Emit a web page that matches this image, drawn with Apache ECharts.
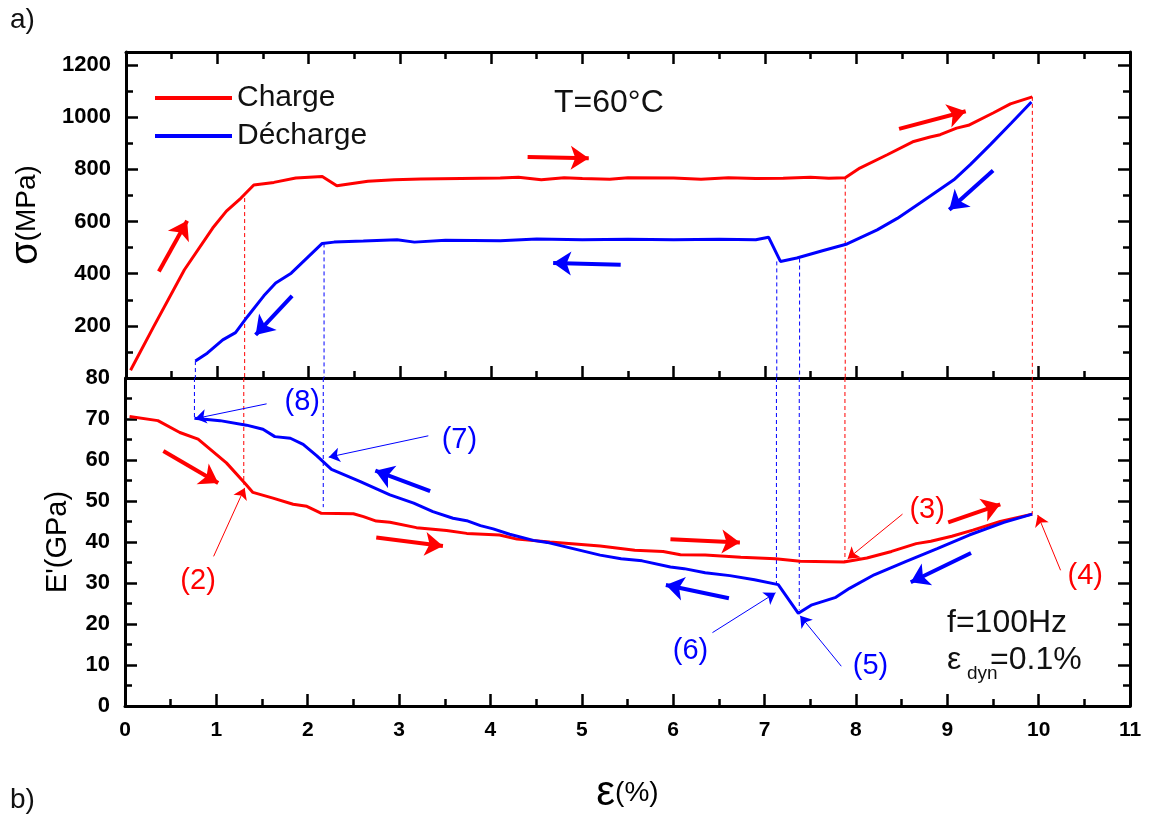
<!DOCTYPE html>
<html><head><meta charset="utf-8">
<script src="https://cdn.jsdelivr.net/npm/echarts@6/dist/echarts.min.js"></script>
<style>html,body{margin:0;padding:0;background:#fff}#c{width:1152px;height:819px}#err{position:absolute;left:300px;top:740px;font:11px monospace;color:#c00;white-space:pre-wrap;width:840px}</style>
</head><body><div id="c"></div><div id="err"></div>
<script>
window.onerror = function(m, s, l, c, e){ document.getElementById('err').textContent += 'ERR ' + m + '\n'; };
// ---- data (strain %, stress MPa / modulus GPa) ----
const sigmaCharge = [[0.05,30],[0.3,195],[0.64,415],[0.95,575],[1.1,640],[1.26,690],[1.40,740],[1.62,750],[1.86,767],[2.15,773],[2.31,737],[2.65,754],[2.94,760],[3.23,763],[3.67,765],[4.1,767],[4.3,770],[4.55,760],[4.8,768],[5.0,765],[5.3,762],[5.5,768],[6.0,767],[6.3,762],[6.6,768],[6.9,765],[7.2,766],[7.5,770],[7.7,766],[7.88,768],[8.04,805],[8.34,856],[8.63,907],[8.81,924],[8.92,933],[9.10,958],[9.23,969],[9.50,1016],[9.69,1051],[9.93,1078]];
const sigmaDecharge = [[9.92,1058],[9.70,978],[9.47,895],[9.25,818],[9.07,760],[8.70,671],[8.45,612],[8.23,568],[7.90,514],[7.64,489],[7.35,460],[7.17,447],[7.04,540],[6.90,530],[6.5,532],[6.0,530],[5.5,532],[5.0,530],[4.5,533],[4.1,526],[3.5,528],[3.16,521],[2.97,530],[2.6,525],[2.28,521],[2.15,516],[1.81,402],[1.64,364],[1.51,315],[1.33,235],[1.20,174],[1.06,146],[0.89,95],[0.76,65]];
const eCharge = [[0.05,70.6],[0.36,69.6],[0.60,66.7],[0.80,65.1],[1.11,59.3],[1.31,54.4],[1.40,52.1],[1.62,50.7],[1.84,49.2],[1.99,48.7],[2.15,47.0],[2.50,46.9],[2.61,46.2],[2.75,45.1],[2.90,44.8],[3.19,43.5],[3.52,42.8],[3.74,42.1],[4.10,41.7],[4.29,40.7],[4.65,40.0],[5.20,39.0],[5.58,38.0],[5.89,37.7],[6.08,36.9],[6.35,36.8],[6.74,36.3],[7.12,35.9],[7.39,35.3],[7.87,35.1],[8.12,36.1],[8.39,37.7],[8.66,39.6],[8.82,40.2],[9.05,41.4],[9.28,42.9],[9.58,45.0],[9.93,46.8]];
const eDecharge = [[9.93,46.8],[9.62,44.8],[9.24,41.7],[8.89,38.4],[8.55,35.3],[8.20,32.0],[7.93,28.7],[7.78,26.5],[7.51,24.6],[7.37,22.6],[7.15,29.6],[6.89,30.8],[6.62,31.8],[6.35,32.5],[6.12,33.5],[5.97,33.9],[5.66,35.4],[5.43,35.9],[5.20,36.8],[4.62,39.9],[4.47,40.4],[4.21,41.9],[4.03,43.2],[3.89,44.0],[3.74,45.2],[3.59,45.8],[3.37,47.4],[3.16,49.5],[2.90,51.5],[2.57,54.8],[2.26,57.7],[2.10,61.0],[1.95,63.8],[1.81,65.3],[1.64,65.7],[1.51,67.5],[1.33,68.5],[1.04,69.6],[0.76,70.2]];

// dashed guide lines: strain, stress on top panel, modulus on bottom panel, colour key
const guideStrain = [1.30, 0.76, 2.17, 7.13, 7.38, 7.88, 9.93];
const guideStress = [690, 65, 516, 447, 458, 768, 1078];
const guideModulus = [54.0, 70.2, 48.5, 29.8, 23.5, 35.3, 46.8];
const guideColor = ['r','b','b','b','b','r','r'];

// direction arrows (from x,y to x,y)
const arrowsTop = [[0.36,408,0.67,603,'r'],[1.82,315,1.42,165,'b'],[4.40,847,5.07,843,'r'],[5.42,434,4.68,441,'b'],[8.47,955,9.20,1023,'r'],[9.50,796,9.02,645,'b']];
const arrowsBottom = [[0.42,62.2,1.02,54.4,'r'],[2.75,41.1,3.48,39.0,'r'],[3.34,52.4,2.74,57.4,'b'],[5.97,40.7,6.73,39.9,'r'],[6.61,26.3,5.92,29.5,'b'],[9.01,44.8,9.58,49.2,'r'],[9.26,37.3,8.60,30.2,'b']];
// pointer arrows for numbered points
const pointers = [[1.55,73.7,0.77,70.1,'b'],[3.32,65.9,2.23,60.7,'b'],[0.97,36.5,1.31,53.2,'r'],[8.51,46.8,7.91,35.9,'r'],[10.24,33.1,9.99,46.6,'r'],[6.43,17.9,7.12,27.6,'b'],[7.84,9.7,7.39,22.0,'b']];
const pointLabels = ['(8)','(7)','(2)','(3)','(4)','(6)','(5)'];
const pointLabelPos = [[1.94,74.1],[3.66,64.9],[0.80,30.5],[8.78,47.9],[10.51,31.8],[6.19,13.4],[8.16,9.7]];
const pointLabelColor = ['b','b','r','r','r','b','b'];

const strainTicks = [0,1,2,3,4,5,6,7,8,9,10,11];

const RED = '#ff0000', BLUE = '#0000ff';
const col = k => k === 'r' ? RED : BLUE;
const FONT = '"Liberation Sans", Arial, sans-serif';

const chart = echarts.init(document.getElementById('c'));

function xAxisDef(gi, pos, labels) {
  return {
    type: 'value', gridIndex: gi, position: pos, min: strainTicks[0], max: strainTicks[strainTicks.length-1], interval: 1,
    axisLine: {onZero: false, lineStyle: {color: '#000', width: 3}},
    axisTick: {show: true, inside: true, length: 12, lineStyle: {color: '#000', width: 2.5}},
    minorTick: {show: true, splitNumber: 2, length: 7, lineStyle: {color: '#000', width: 2.5}},
    splitLine: {show: false},
    axisLabel: labels ? {show: true, margin: 14, color: '#000', fontWeight: 'bold', fontSize: 21, fontFamily: FONT} : {show: false}
  };
}
function yAxisDef(gi, pos, min, max, interval, labels, formatter) {
  const a = {
    type: 'value', gridIndex: gi, position: pos, min: min, max: max, interval: interval,
    axisLine: {onZero: false, lineStyle: {color: '#000', width: 3}},
    axisTick: {show: true, inside: true, length: 12, lineStyle: {color: '#000', width: 2.5}},
    minorTick: {show: true, splitNumber: 2, length: 7, lineStyle: {color: '#000', width: 2.5}},
    splitLine: {show: false},
    axisLabel: labels ? {show: true, margin: 15, color: '#000', fontWeight: 'bold', fontSize: 22, fontFamily: FONT} : {show: false}
  };
  if (formatter) a.axisLabel.formatter = formatter;
  return a;
}

const xAxes = [xAxisDef(0,'bottom',false), xAxisDef(0,'top',false), xAxisDef(1,'bottom',true)];
xAxes[2].name = '{e|ε}{n|(%)}';
xAxes[2].nameLocation = 'middle';
xAxes[2].nameGap = 66;
xAxes[2].nameTextStyle = {rich: {e: {fontSize: 42, fontFamily: FONT, color: '#000'}, n: {fontSize: 28, fontFamily: FONT, color: '#000'}}};

const yAxes = [
  yAxisDef(0,'left',0,1250,200,true, v => (v === 0 || v > 1200) ? '' : String(v)),
  yAxisDef(0,'right',0,1250,200,false),
  yAxisDef(1,'left',0,80,10,true),
  yAxisDef(1,'right',0,80,10,false)
];
yAxes[0].name = '{s|σ}{n|(MPa)}';
yAxes[0].nameLocation = 'middle';
yAxes[0].nameRotate = 90;
yAxes[0].nameGap = 80;
yAxes[0].nameTextStyle = {rich: {s: {fontSize: 38, fontFamily: FONT, color: '#000'}, n: {fontSize: 28, fontFamily: FONT, color: '#000'}}};
yAxes[2].name = "E'(GPa)";
yAxes[2].nameLocation = 'middle';
yAxes[2].nameRotate = 90;
yAxes[2].nameGap = 53;
yAxes[2].nameTextStyle = {fontSize: 29, fontFamily: FONT, color: '#000'};

const gridBottom = {left: 125, right: 22, top: 378, height: 328};

function lineSeries(name, data, color, xi, yi, dashed, width) {
  return {type: 'line', name: name, data: data, xAxisIndex: xi, yAxisIndex: yi, symbol: 'none', showSymbol: false,
    color: color, lineStyle: {color: color, width: width || 3, type: dashed ? [4,3] : 'solid'}, z: dashed ? 2 : 3, animation: false, silent: true};
}
function arrowSeries(items, color, xi, yi, width, arrowSize) {
  return {type: 'lines', coordinateSystem: 'cartesian2d', xAxisIndex: xi, yAxisIndex: yi,
    data: items.map(c => ({coords: c})),
    symbol: ['none','arrow'], symbolSize: arrowSize,
    lineStyle: {color: color, width: width, opacity: 1},
    itemStyle: {color: color}, z: 4, animation: false, silent: true};
}

const series = [
  lineSeries('Charge', sigmaCharge, RED, 0, 0),
  lineSeries('Décharge', sigmaDecharge, BLUE, 0, 0),
  lineSeries('Charge', eCharge, RED, 2, 2),
  lineSeries('Décharge', eDecharge, BLUE, 2, 2)
];
guideStrain.forEach((s, i) => {
  series.push(lineSeries(null, [[s, guideStress[i]], [s, 0]], col(guideColor[i]), 0, 0, true, 1));
  series.push(lineSeries(null, [[s, 80], [s, guideModulus[i]]], col(guideColor[i]), 2, 2, true, 1));
});
['r','b'].forEach(k => {
  series.push(arrowSeries(arrowsTop.filter(a => a[4] === k).map(a => [[a[0],a[1]],[a[2],a[3]]]), col(k), 0, 0, 4, 18));
  series.push(arrowSeries(arrowsBottom.filter(a => a[4] === k).map(a => [[a[0],a[1]],[a[2],a[3]]]), col(k), 2, 2, 4, 18));
  series.push(arrowSeries(pointers.filter(a => a[4] === k).map(a => [[a[0],a[1]],[a[2],a[3]]]), col(k), 2, 2, 1, 11));
});
// anchor points of the numbered labels (invisible markers)
series.push({
  type: 'scatter', xAxisIndex: 2, yAxisIndex: 2, symbolSize: 1, itemStyle: {opacity: 0}, silent: true, z: 5, animation: false,
  data: pointLabels.map((t,i) => ({name: t, value: pointLabelPos[i]}))
});

// numbered label texts, placed in the bottom panel (strain 0–11, modulus 0–80)
const labelTexts = pointLabels.map((t, i) => {
  const px = gridBottom.left + pointLabelPos[i][0] / 11 * (1152 - gridBottom.left - gridBottom.right);
  const py = gridBottom.top + (80 - pointLabelPos[i][1]) / 80 * gridBottom.height;
  return {type: 'text', x: px, y: py, z: 10,
    style: {text: t, font: '29px ' + FONT, fill: col(pointLabelColor[i]), align: 'center', verticalAlign: 'middle'}};
});

try {
chart.setOption({
  animation: false,
  backgroundColor: '#fff',
  grid: [
    {left: 125, right: 22, top: 52, height: 326},
    gridBottom
  ],
  xAxis: xAxes,
  yAxis: yAxes,
  legend: {
    data: ['Charge','Décharge'], orient: 'vertical', left: 150, top: 78, itemWidth: 77, itemHeight: 4, itemGap: 8, icon: 'rect',
    textStyle: {fontSize: 30, fontFamily: FONT, color: '#111'}, selectedMode: false
  },
  graphic: [
    {type: 'text', left: 10, top: 6, style: {text: 'a)', font: '28px ' + FONT, fill: '#111'}},
    {type: 'text', left: 10, top: 786, style: {text: 'b)', font: '28px ' + FONT, fill: '#111'}},
    {type: 'text', left: 554, top: 87, style: {text: 'T=60°C', font: '32px ' + FONT, fill: '#111'}},
    {type: 'text', left: 947, top: 607, style: {text: 'f=100Hz', font: '32px ' + FONT, fill: '#111'}},
    {type: 'text', left: 947, top: 644, style: {text: 'ε', font: '32px ' + FONT, fill: '#111'}},
    {type: 'text', left: 967, top: 664, style: {text: 'dyn', font: '19px ' + FONT, fill: '#111'}},
    {type: 'text', left: 990, top: 644, style: {text: '=0.1%', font: '32px ' + FONT, fill: '#111'}}
  ].concat(labelTexts),
  series: series
});
} catch (e) { document.getElementById('err').textContent += 'CAUGHT ' + e.message; }
</script></body></html>
